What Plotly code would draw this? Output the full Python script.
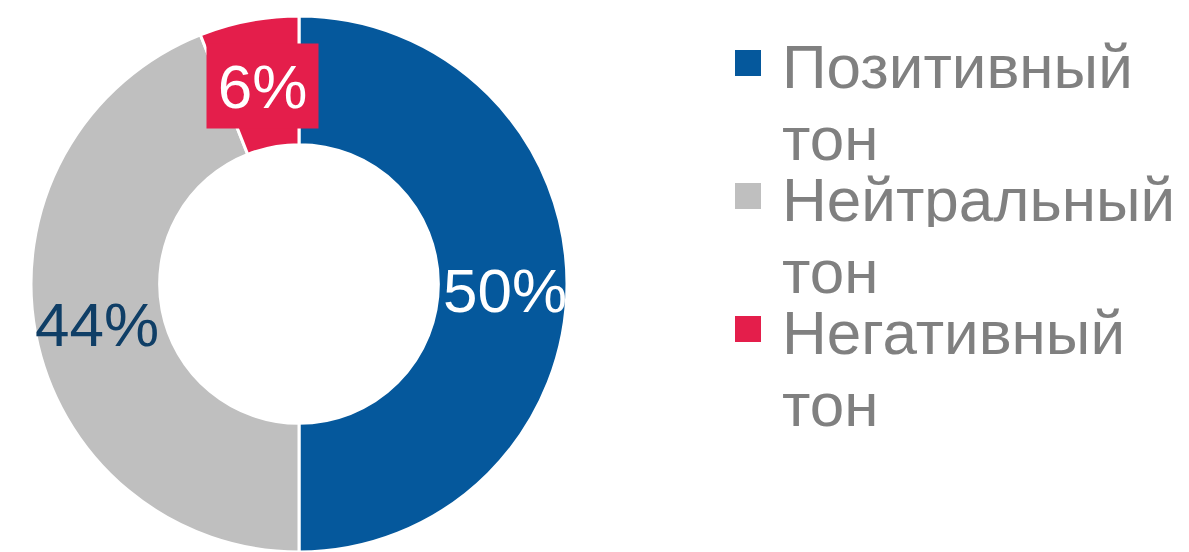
import plotly.graph_objects as go

# Sentiment split of publications
categories = ["Позитивный тон", "Нейтральный тон", "Негативный тон"]
legend_lines = [["Позитивный", "тон"], ["Нейтральный", "тон"], ["Негативный", "тон"]]
values = [50, 44, 6]
colors = ["#05589C", "#BFBFBF", "#E41E4B"]
label_colors = ["#FFFFFF", "#0F3E66", "#FFFFFF"]

W, H = 1189, 552
FONT = "Liberation Sans, Arial, sans-serif"


def px(x):
    return x / W


def py(y):
    return 1 - y / H


fig = go.Figure(
    go.Pie(
        labels=categories,
        values=values,
        hole=0.52,
        sort=False,
        direction="clockwise",
        rotation=0,
        marker=dict(colors=colors, line=dict(color="#FFFFFF", width=3)),
        textinfo="none",
        hoverinfo="label+percent",
        showlegend=False,
        domain=dict(x=[px(31), px(567)], y=[0, py(16)]),
    )
)

# Percentage labels on the ring
label_pos = [(505, 290), (97, 324), (262, 86)]
annotations = []
for i, (v, (lx, ly)) in enumerate(zip(values, label_pos)):
    ann = dict(
        x=px(lx), y=py(ly), xref="paper", yref="paper",
        text=f"{v}%", showarrow=False,
        xanchor="center", yanchor="middle",
        font=dict(family=FONT, size=62, color=label_colors[i]),
    )
    if i == 2:
        ann.update(bgcolor=colors[2], width=109, height=82)
    annotations.append(ann)

# Legend: coloured squares with two-line captions
item_top = [50, 183, 316]
for i, lines in enumerate(legend_lines):
    top = item_top[i]
    fig.add_shape(
        type="rect", xref="paper", yref="paper",
        x0=px(735), x1=px(761), y0=py(top), y1=py(top + 26),
        fillcolor=colors[i], line=dict(width=0),
    )
    base = top + 37
    for j, line in enumerate(lines):
        annotations.append(dict(
            x=px(780), y=py(base + j * 72 - 21), xref="paper", yref="paper",
            text=line, showarrow=False, xanchor="left", yanchor="middle",
            height=56,
            font=dict(family=FONT, size=62, color="#808080"),
        ))

fig.update_layout(
    width=W, height=H,
    margin=dict(l=0, r=0, t=0, b=0),
    paper_bgcolor="#FFFFFF", plot_bgcolor="#FFFFFF",
    annotations=annotations,
    font=dict(family=FONT),
)

fig.write_html("out.html")
